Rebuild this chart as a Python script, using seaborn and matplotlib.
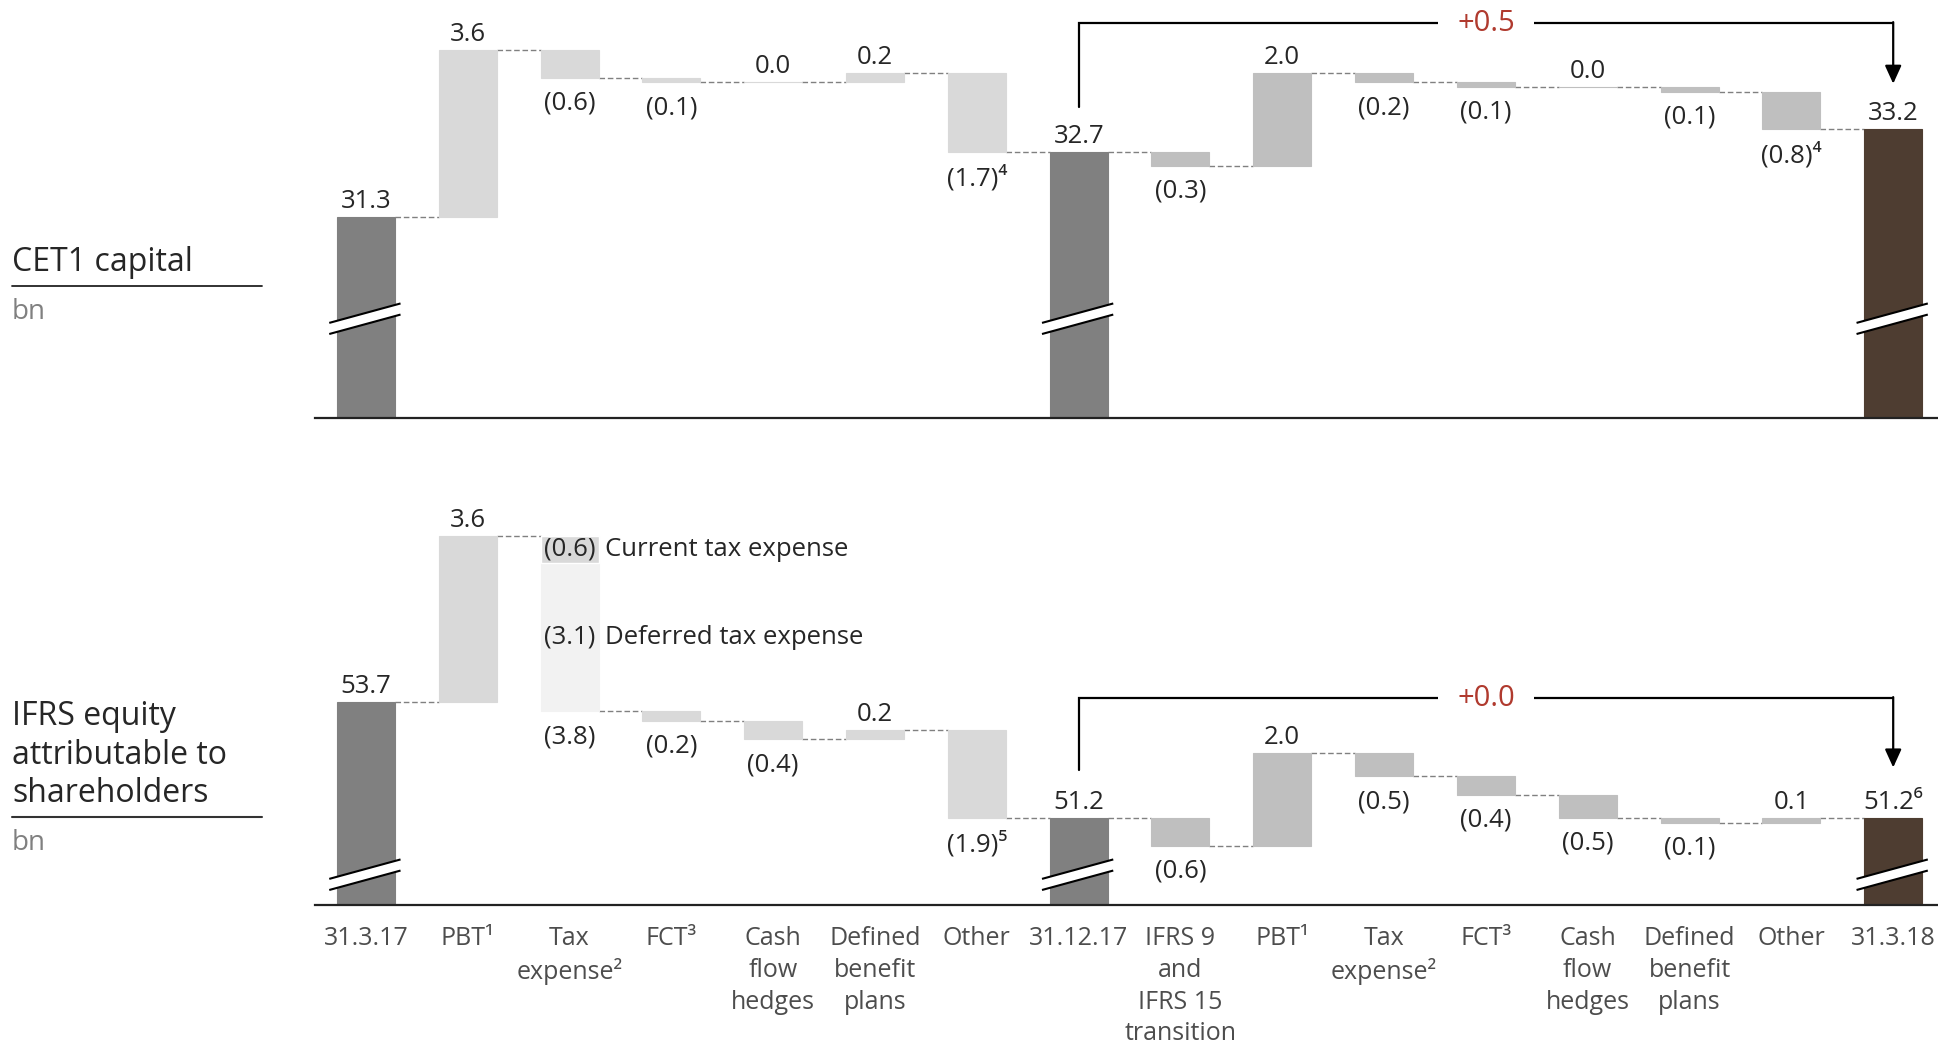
import numpy as np
import pandas as pd
import matplotlib.pyplot as plt
import seaborn as sns
from matplotlib.lines import Line2D
from matplotlib.patches import Polygon

# x categories (shared by both panels)
steps = ['31.3.17', 'PBT¹', 'Tax\nexpense²', 'FCT³', 'Cash\nflow\nhedges',
         'Defined\nbenefit\nplans', 'Other', '31.12.17',
         'IFRS 9\nand\nIFRS 15\ntransition', 'PBT¹', 'Tax\nexpense²', 'FCT³',
         'Cash\nflow\nhedges', 'Defined\nbenefit\nplans', 'Other', '31.3.18']

# CET1 capital, bn
cet1_start = 31.3
cet1_moves_q1 = [3.6, -0.6, -0.1, 0.0, 0.2, -1.7]
cet1_mid = 32.7
cet1_moves_q2 = [-0.3, 2.0, -0.2, -0.1, 0.0, -0.1, -0.8]
cet1_end = 33.2
cet1_notes = {6: '⁴', 14: '⁴'}
cet1_change = '+0.5'

# IFRS equity attributable to shareholders, bn
eq_start = 53.7
eq_moves_q1 = [3.6, -3.8, -0.2, -0.4, 0.2, -1.9]
eq_mid = 51.2
eq_moves_q2 = [-0.6, 2.0, -0.5, -0.4, -0.5, -0.1, 0.1]
eq_end = 51.2
eq_notes = {6: '⁵', 15: '⁶'}
eq_change = '+0.0'
tax_current = -0.6
tax_deferred = -3.1

COLORS = {'total': '#808080', 'q1': '#d9d9d9', 'q2': '#bfbfbf', 'end': '#4e3d31'}
RED = '#b03a2e'
BAR_W = 0.57
PX_PER_BN = 46.3


def waterfall_frame(start, moves1, mid, moves2, end):
    rows = [('total', 0.0, start, start)]
    level = start
    for m in moves1:
        rows.append(('q1', level, m, level + m))
        level += m
    rows.append(('total', 0.0, mid, mid))
    level = mid
    for m in moves2:
        rows.append(('q2', level, m, level + m))
        level += m
    rows.append(('end', 0.0, end, end))
    df = pd.DataFrame(rows, columns=['kind', 'bottom', 'height', 'level'])
    df['pos'] = np.arange(len(df))
    df['color'] = df['kind'].map(COLORS)
    return df


def fmt(v):
    return f'({abs(v):.1f})' if v < 0 else f'{v:.1f}'


def draw_break(ax, x, y):
    xs = np.array([x - 0.36, x + 0.34])
    lo = y + (xs - x) * 0.6
    hi = lo + 0.24
    ax.add_patch(Polygon([[xs[0], lo[0]], [xs[1], lo[1]], [xs[1], hi[1]], [xs[0], hi[0]]],
                         closed=True, facecolor='white', edgecolor='none', zorder=4))
    ax.plot(xs, lo, color='black', lw=1.5, zorder=5, solid_capstyle='butt')
    ax.plot(xs, hi, color='black', lw=1.5, zorder=5, solid_capstyle='butt')


def draw_panel(ax, df, notes, change, ylo, height_px, break_y, bracket):
    sns.barplot(data=df, x='pos', y='height', bottom=df['bottom'].to_numpy(),
                color='#808080', facecolor=df['color'].tolist(),
                edgecolor=df['color'].tolist(), linewidth=0.8,
                width=BAR_W, errorbar=None, ax=ax, zorder=2)
    n = len(df)
    # dashed connectors
    for i in range(n - 1):
        ax.hlines(df['level'].iloc[i], i + BAR_W / 2, i + 1 - BAR_W / 2,
                  colors='#808080', linestyles=(0, (4, 2)), lw=1.0, zorder=1)
    # value labels
    for i, r in df.iterrows():
        label = fmt(r['height']) + notes.get(i, '')
        if r['kind'] in ('total', 'end') or r['height'] >= 0:
            ax.annotate(label, (i, r['level']), xytext=(0, 9),
                        textcoords='offset pixels', ha='center', va='baseline', fontsize=18.5)
        else:
            ax.annotate(label, (i, r['bottom'] + r['height']), xytext=(0, -13),
                        textcoords='offset pixels', ha='center', va='top', fontsize=18.5)
    # broken axis marks on total bars
    for i in df.index[df['kind'].isin(['total', 'end'])]:
        draw_break(ax, i, break_y)
    # bracket with change
    yb, yl, ya = bracket
    i0, i1 = 7, n - 1
    ax.plot([i0, i0, i1], [yl, yb, yb], color='black', lw=1.6, clip_on=False,
            solid_joinstyle='miter', zorder=3)
    ax.annotate('', xy=(i1, ya), xytext=(i1, yb + 0.02),
                arrowprops=dict(arrowstyle='-|>,head_length=0.55,head_width=0.25',
                                color='black', lw=1.6, shrinkA=0, shrinkB=0,
                                mutation_scale=20), annotation_clip=False)
    ax.text((i0 + i1) / 2, yb, change, color=RED, fontsize=21, ha='center', va='center',
            bbox=dict(facecolor='white', edgecolor='none', pad=14), zorder=4)

    ax.set_xlim(-0.5, 15.44)
    ax.set_ylim(ylo, ylo + height_px / PX_PER_BN)
    sns.despine(ax=ax, left=True)
    ax.set_yticks([])
    ax.set_xlabel('')
    ax.set_ylabel('')
    ax.patch.set_alpha(0)


sns.set_style('white')
plt.rcParams['font.family'] = ['Open Sans', 'Noto Sans', 'DejaVu Sans']

W, H = 1938, 1045
fig = plt.figure(figsize=(W / 100, H / 100), dpi=100)
left = 315 / W
ax_top = fig.add_axes([left, 1 - 418 / H, 1 - left, 418 / H])
ax_bot = fig.add_axes([left, 1 - 905 / H, 1 - left, 435 / H])

cet1 = waterfall_frame(cet1_start, cet1_moves_q1, cet1_mid, cet1_moves_q2, cet1_end)
eq = waterfall_frame(eq_start, eq_moves_q1, eq_mid, eq_moves_q2, eq_end)
eq.loc[2, 'color'] = '#f2f2f2'

draw_panel(ax_top, cet1, cet1_notes, cet1_change, 26.95, 418, 28.98,
           (35.48, 33.67, 34.17))
draw_panel(ax_bot, eq, eq_notes, eq_change, 49.32, 435, 49.86,
           (53.79, 52.23, 52.29))

# split of tax expense into current and deferred
tax_top = eq.loc[2, 'bottom']
ax_bot.bar(2, tax_current, bottom=tax_top, width=BAR_W, color='#d9d9d9', zorder=2)
cur_mid = tax_top + tax_current / 2
def_mid = tax_top + tax_current + (eq.loc[2, 'height'] - tax_current) / 2
ax_bot.text(2, cur_mid, fmt(tax_current), ha='center', va='center', fontsize=18.5, zorder=3)
ax_bot.text(2 + 0.35, cur_mid, 'Current tax expense', ha='left', va='center', fontsize=18.5)
ax_bot.text(2, def_mid, fmt(tax_deferred), ha='center', va='center', fontsize=18.5, zorder=3)
ax_bot.text(2 + 0.35, def_mid, 'Deferred tax expense', ha='left', va='center', fontsize=18.5)

for ax in (ax_top, ax_bot):
    ax.spines['bottom'].set_linewidth(1.6)
    ax.spines['bottom'].set_color('#222222')
ax_top.set_xticks([])
ax_bot.set_xticks(range(len(steps)), steps)
ax_bot.tick_params(axis='x', length=0, pad=15, labelsize=18, labelcolor='#4d4d4d')
for lbl in ax_bot.get_xticklabels():
    lbl.set_linespacing(1.36)

# row headers on the left
def fy(px):
    return 1 - px / H

fig.text(12 / W, fy(271), 'CET1 capital', fontsize=23, va='baseline', ha='left')
fig.add_artist(Line2D([12 / W, 262 / W], [fy(286), fy(286)], color='#222222', lw=1.3))
fig.text(12 / W, fy(319), 'bn', fontsize=20, va='baseline', ha='left', color='#808080')

for k, line in enumerate(['IFRS equity', 'attributable to', 'shareholders']):
    fig.text(12 / W, fy(725 + 38.5 * k), line, fontsize=23, va='baseline', ha='left')
fig.add_artist(Line2D([12 / W, 262 / W], [fy(817), fy(817)], color='#333333', lw=1.5))
fig.text(12 / W, fy(850), 'bn', fontsize=20, va='baseline', ha='left', color='#808080')

fig.savefig('out.png', dpi=100)
